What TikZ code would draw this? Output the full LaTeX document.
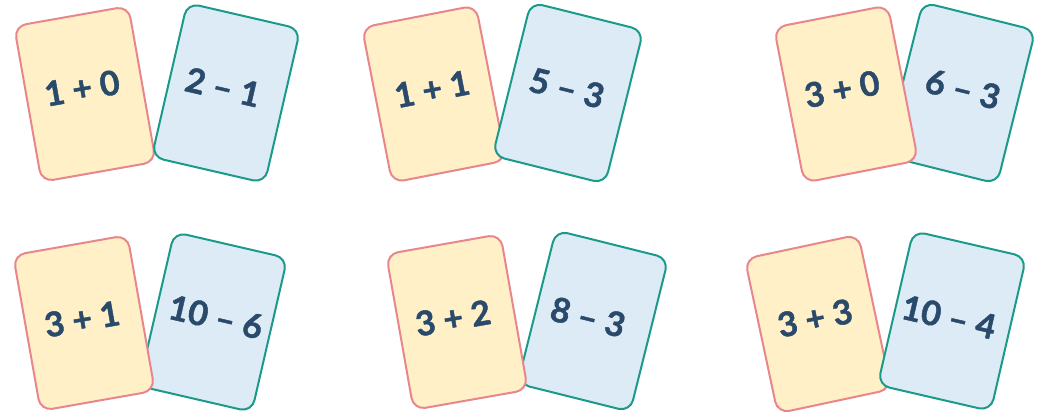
\documentclass[tikz,border=0pt]{standalone}
\usepackage{fontspec}
\setmainfont{Lato}
\newfontfamily\numfont{Lato}[BoldFeatures={FakeBold=1.3}]
\definecolor{yfill}{HTML}{FFF0C8}
\definecolor{ydraw}{HTML}{E8868C}
\definecolor{bfill}{HTML}{DDEBF7}
\definecolor{bdraw}{HTML}{1A9A8A}
\definecolor{txt}{HTML}{2A4A6C}
\tikzset{
  card/.style={rectangle, rounded corners=12pt, minimum width=116pt, minimum height=158pt, line width=2pt, inner sep=0pt},
  ycard/.style={card, fill=yfill, draw=ydraw},
  bcard/.style={card, fill=bfill, draw=bdraw},
  sum/.style={font=\numfont\fontsize{34}{36}\selectfont\bfseries, text=txt, inner sep=0pt}
}
\begin{document}
\begin{tikzpicture}[x=1pt,y=-1pt]
\useasboundingbox (0,0) rectangle (1043,416);
\fill[white] (0,0) rectangle (1043,416);
% pair 1 (blue on top)
\node[ycard, rotate=10] (y1) at (85,94) {};
\node[sum, rotate=10] (ty1) at (82,88) {1 + 0};
\node[bcard, rotate=-13] (b1) at (226,93) {};
\node[sum, rotate=-13] (tb1) at (223,87) {2 – 1};
% pair 2 (blue on top)
\node[ycard, rotate=11] (y2) at (434,94) {};
\node[sum, rotate=11] (ty2) at (432,89) {1 + 1};
\node[bcard, rotate=-14] (b2) at (568,93) {};
\node[sum, rotate=-14] (tb2) at (567,88) {5 – 3};
% pair 3 (yellow on top)
\node[bcard, rotate=-14] (b3) at (960,93) {};
\node[sum, rotate=-14] (tb3) at (963,89) {6 – 3};
\node[ycard, rotate=11] (y3) at (846,94) {};
\node[sum, rotate=11] (ty3) at (842,89) {3 + 0};
% pair 4 (yellow on top)
\node[bcard, rotate=-13] (b4) at (213,322) {};
\node[sum, rotate=-13] (tb4) at (216,317) {10 – 6};
\node[ycard, rotate=10] (y4) at (84,323) {};
\node[sum, rotate=10] (ty4) at (82,319) {3 + 1};
% pair 5 (yellow on top)
\node[bcard, rotate=-14] (b5) at (593,321) {};
\node[sum, rotate=-14] (tb5) at (588,317) {8 – 3};
\node[ycard, rotate=10] (y5) at (457,322) {};
\node[sum, rotate=10] (ty5) at (453,318) {3 + 2};
% pair 6 (blue on top)
\node[ycard, rotate=12] (y6) at (818,324) {};
\node[sum, rotate=12] (ty6) at (815,318) {3 + 3};
\node[bcard, rotate=-13] (b6) at (952,321) {};
\node[sum, rotate=-13] (tb6) at (949,317) {10 – 4};
\end{tikzpicture}
\end{document}
